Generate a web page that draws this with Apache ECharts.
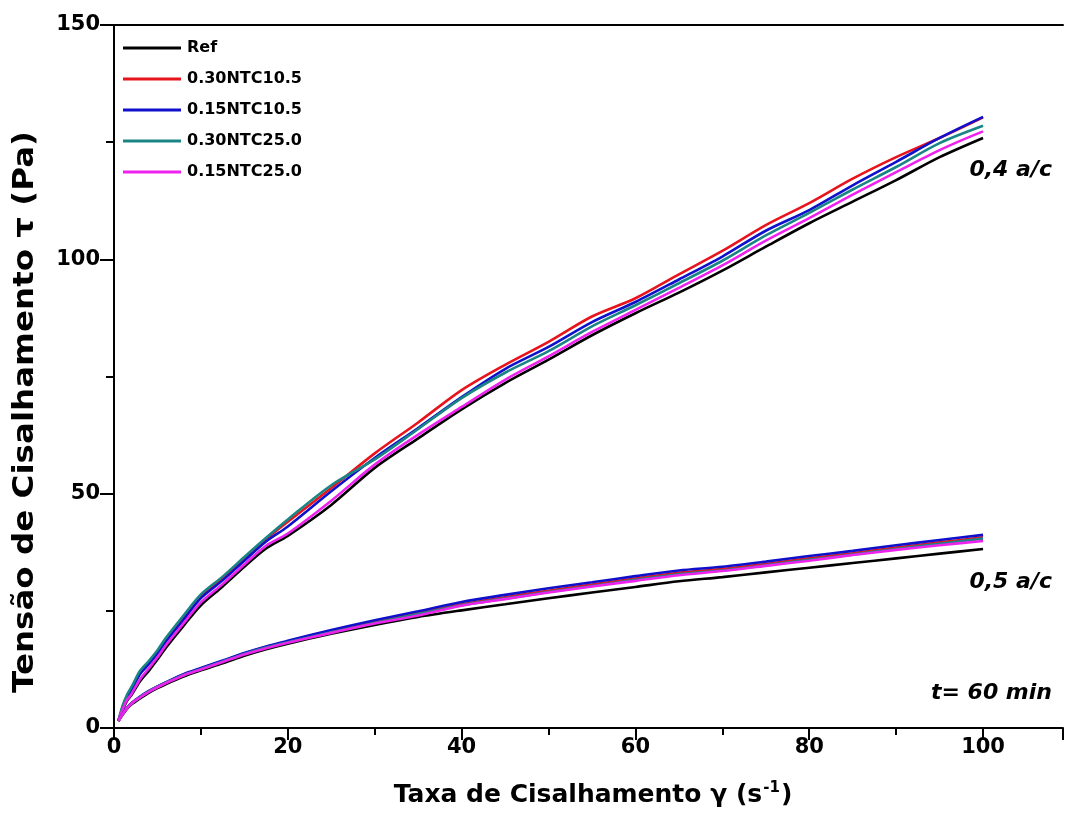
<!DOCTYPE html>
<html>
<head>
<meta charset="utf-8">
<script src="https://cdn.jsdelivr.net/npm/echarts@6/dist/echarts.min.js"></script>
<style>
html,body{margin:0;padding:0;background:#fff;}
#chart{width:1066px;height:834px;}
</style>
</head>
<body>
<div id="chart"></div>
<script>
// Shear rate (x) values
const shearRate = [0.5, 1, 1.5, 2, 3, 4, 5, 6, 8, 10, 12.5, 15, 17.5, 20, 25, 30, 35, 40, 45, 50, 55, 60, 65, 70, 75, 80, 85, 90, 95, 100];

// 0,4 a/c group
const ref04     = [1.5, 3.8, 5.8, 7.0, 10.0, 12.2, 14.6, 17.2, 21.8, 26.2, 30.2, 34.4, 38.3, 41.0, 47.6, 55.5, 61.8, 68.0, 73.6, 78.6, 83.8, 88.5, 92.9, 97.6, 102.7, 107.7, 112.3, 116.9, 121.8, 125.9];
const ntc30_105 = [1.5, 4.5, 6.8, 8.4, 11.9, 14.0, 16.3, 18.9, 23.6, 28.2, 32.0, 36.2, 40.3, 44.0, 51.2, 58.6, 65.2, 72.1, 77.5, 82.4, 87.8, 91.7, 96.8, 101.8, 107.3, 112.0, 117.2, 121.8, 125.9, 130.3];
const ntc15_105 = [1.5, 4.3, 6.4, 8.0, 11.5, 13.6, 15.9, 18.5, 23.1, 27.7, 31.5, 35.7, 39.8, 43.0, 50.5, 57.6, 64.0, 70.6, 76.6, 81.3, 86.6, 90.9, 95.7, 100.6, 106.1, 110.5, 115.8, 120.8, 125.9, 130.4];
const ntc30_250 = [1.5, 4.8, 7.1, 8.7, 12.2, 14.3, 16.6, 19.3, 24.0, 28.5, 32.3, 36.5, 40.6, 44.5, 51.8, 57.3, 63.8, 70.4, 75.8, 80.4, 85.7, 90.2, 94.9, 99.7, 105.1, 109.9, 114.9, 119.7, 124.8, 128.5];
const ntc15_250 = [1.5, 4.0, 6.0, 7.2, 10.4, 12.7, 15.1, 17.7, 22.3, 26.8, 30.7, 34.9, 38.9, 41.5, 48.5, 56.2, 62.6, 68.5, 74.3, 79.3, 84.5, 89.2, 93.9, 98.7, 104.0, 108.8, 113.8, 118.6, 123.3, 127.3];

// 0,5 a/c group
const ref05     = [1.5, 2.9, 4.1, 5.0, 6.3, 7.5, 8.5, 9.4, 11.0, 12.3, 13.8, 15.4, 16.8, 18.0, 20.1, 22.0, 23.7, 25.1, 26.4, 27.7, 28.9, 30.1, 31.3, 32.2, 33.2, 34.2, 35.2, 36.2, 37.2, 38.2];
const ntc30_105b= [1.5, 3.0, 4.3, 5.3, 6.6, 7.8, 8.8, 9.7, 11.4, 12.7, 14.3, 15.9, 17.3, 18.4, 20.6, 22.6, 24.5, 26.4, 27.9, 29.3, 30.6, 31.9, 33.1, 33.9, 35.0, 36.2, 37.3, 38.5, 39.6, 40.7];
const ntc15_105b= [1.5, 3.0, 4.3, 5.3, 6.7, 7.9, 8.9, 9.8, 11.5, 12.8, 14.4, 16.0, 17.4, 18.6, 20.9, 23.0, 24.9, 26.9, 28.4, 29.8, 31.1, 32.4, 33.6, 34.4, 35.5, 36.7, 37.8, 39.0, 40.1, 41.2];
const ntc30_250b= [1.5, 3.0, 4.3, 5.2, 6.6, 7.8, 8.8, 9.7, 11.3, 12.6, 14.2, 15.8, 17.2, 18.3, 20.4, 22.4, 24.3, 26.2, 27.6, 29.0, 30.3, 31.6, 32.8, 33.6, 34.7, 35.9, 37.0, 38.2, 39.3, 40.4];
const ntc15_250b= [1.5, 3.0, 4.2, 5.2, 6.5, 7.7, 8.7, 9.6, 11.2, 12.5, 14.1, 15.7, 17.0, 18.2, 20.3, 22.3, 24.0, 26.1, 27.5, 28.9, 30.2, 31.4, 32.6, 33.5, 34.6, 35.7, 36.9, 38.0, 39.0, 39.9];

const seriesNames = ['Ref', '0.30NTC10.5', '0.15NTC10.5', '0.30NTC25.0', '0.15NTC25.0'];
const seriesColors = ['#000000', '#e8141c', '#1010cc', '#1a8585', '#ee22ee'];
const group04 = [ref04, ntc30_105, ntc15_105, ntc30_250, ntc15_250];
const group05 = [ref05, ntc30_105b, ntc15_105b, ntc30_250b, ntc15_250b];

const xTicks = [0, 20, 40, 60, 80, 100];
const yTicks = [0, 50, 100, 150];

const FONT = '"DejaVu Sans", "Liberation Sans", Arial, sans-serif';

function mk(name, color, ys) {
  return {
    name: name, type: 'line', xAxisIndex: 0, yAxisIndex: 0,
    data: shearRate.map((x, i) => [x, ys[i]]),
    showSymbol: false, smooth: 0.3,
    lineStyle: { color: color, width: 2.6 },
    itemStyle: { color: color },
    z: 2
  };
}
const series = [];
for (let i = 0; i < seriesNames.length; i++) {
  series.push(mk(seriesNames[i], seriesColors[i], group04[i]));
}
for (let i = 0; i < seriesNames.length; i++) {
  series.push(mk(seriesNames[i], seriesColors[i], group05[i]));
}

const chart = echarts.init(document.getElementById('chart'));
const gridLeft = 114, gridTop = 25, gridW = 952, gridH = 703;
const xMax = 109.2;
chart.setOption({
  backgroundColor: '#ffffff',
  animation: false,
  textStyle: { fontFamily: FONT },
  grid: { left: gridLeft, top: gridTop, width: gridW, height: gridH },
  legend: {
    orient: 'vertical', left: 118, top: 35,
    itemWidth: 58, itemHeight: 3, itemGap: 15, icon: 'rect',
    textStyle: { fontFamily: FONT, fontSize: 16, fontWeight: 'bold', color: '#000', padding: [0, 0, 0, 1] },
    data: seriesNames
  },
  xAxis: [{
    type: 'value', min: 0, max: xMax, interval: 20,
    axisLine: { show: true, onZero: false, lineStyle: { color: '#000', width: 2 } },
    axisTick: { show: true, inside: false, length: 12, lineStyle: { color: '#000', width: 2 } },
    minorTick: { show: true, splitNumber: 2, length: 7, lineStyle: { color: '#000', width: 2 } },
    axisLabel: {
      fontFamily: FONT, fontSize: 21, fontWeight: 'bold', color: '#000', margin: 9,
      formatter: v => (xTicks.indexOf(v) >= 0 ? String(v) : '')
    },
    splitLine: { show: false }
  }, {
    type: 'value', min: 0, max: xMax, position: 'top',
    axisLine: { show: true, onZero: false, lineStyle: { color: '#000', width: 2 } },
    axisTick: { show: false }, axisLabel: { show: false }, splitLine: { show: false }
  }],
  yAxis: [{
    type: 'value', min: 0, max: 150, interval: 50,
    axisLine: { show: true, onZero: false, lineStyle: { color: '#000', width: 2 } },
    axisTick: { show: true, inside: false, length: 14, lineStyle: { color: '#000', width: 2 } },
    minorTick: { show: true, splitNumber: 2, length: 8, lineStyle: { color: '#000', width: 2 } },
    axisLabel: {
      fontFamily: FONT, fontSize: 21, fontWeight: 'bold', color: '#000', margin: 14,
      formatter: v => (yTicks.indexOf(v) >= 0 ? String(v) : '')
    },
    splitLine: { show: false }
  }],
  series: series,
  graphic: [
    {
      type: 'text', x: 593, y: 795,
      style: {
        text: '{a|Taxa de Cisalhamento γ (s}{s|-1}{a|)}',
        align: 'center', verticalAlign: 'middle',
        rich: {
          a: { fontFamily: FONT, fontSize: 25, fontWeight: 'bold', fill: '#000' },
          s: { fontFamily: FONT, fontSize: 15, fontWeight: 'bold', fill: '#000', verticalAlign: 'top', padding: [0, 1, 14, 1] }
        }
      }
    },
    {
      type: 'text', x: 26, y: 412, rotation: Math.PI / 2, scaleX: 1.3, scaleY: 1.1,
      style: {
        text: 'Tensão de Cisalhamento τ (Pa)',
        fontFamily: FONT, fontSize: 25, fontWeight: 'bold', fill: '#000',
        align: 'center', verticalAlign: 'middle'
      }
    },
    {
      type: 'text', x: 1052, y: 170,
      style: { text: '0,4 a/c', fontFamily: FONT, fontSize: 22, fontWeight: 'bold', fontStyle: 'italic', fill: '#000', align: 'right', verticalAlign: 'middle' }
    },
    {
      type: 'text', x: 1052, y: 582,
      style: { text: '0,5 a/c', fontFamily: FONT, fontSize: 22, fontWeight: 'bold', fontStyle: 'italic', fill: '#000', align: 'right', verticalAlign: 'middle' }
    },
    {
      type: 'text', x: 1052, y: 693,
      style: { text: 't= 60 min', fontFamily: FONT, fontSize: 22, fontWeight: 'bold', fontStyle: 'italic', fill: '#000', align: 'right', verticalAlign: 'middle' }
    }
  ]
});
</script>
</body>
</html>
